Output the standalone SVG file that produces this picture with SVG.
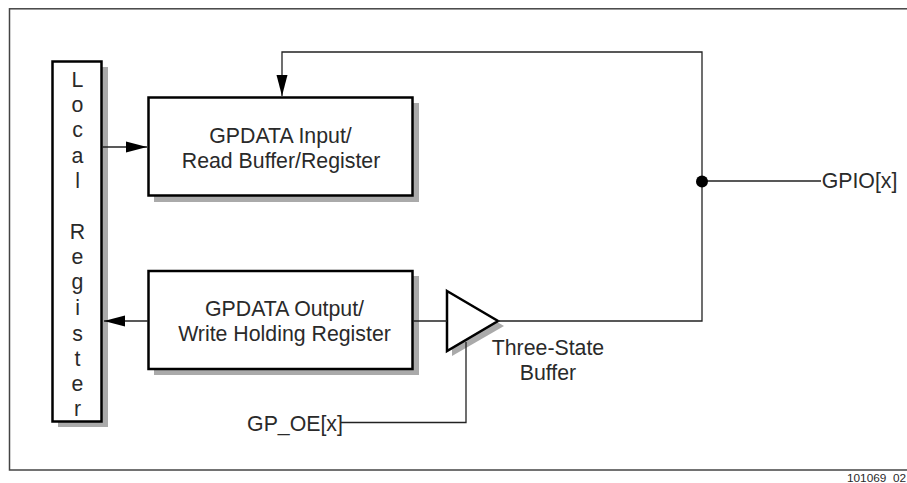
<svg xmlns="http://www.w3.org/2000/svg" width="907" height="483" viewBox="0 0 907 483">
<style>
text{font-family:"Liberation Sans",Arial,sans-serif;font-size:21.3px;fill:#2a2a2a;text-anchor:middle}
.box{fill:#fff;stroke:#000;stroke-width:2.5}
.sh{fill:#aaa}
.w{fill:none;stroke:#222;stroke-width:1.3}
</style>
<defs><marker id="a" markerUnits="userSpaceOnUse" markerWidth="22" markerHeight="12" refX="21" refY="6" orient="auto"><path d="M0 0.5L21 6L0 11.5Z" fill="#000"/></marker></defs>
<rect id="frame" x="9.5" y="8.8" width="899" height="461.2" fill="#fff" stroke="#444" stroke-width="1.5"/>
<g id="local-register">
<rect class="sh" x="58" y="67" width="50" height="360"/>
<rect class="box" x="52.5" y="61.5" width="49" height="360"/>
<text x="77.5" y="87">L</text><text x="77.5" y="112">o</text><text x="77.5" y="137">c</text><text x="77.5" y="163">a</text><text x="77.5" y="188">l</text><text x="77.5" y="239">R</text><text x="77.5" y="264">e</text><text x="77.5" y="289">g</text><text x="77.5" y="315">i</text><text x="77.5" y="341">s</text><text x="77.5" y="366">t</text><text x="77.5" y="391">e</text><text x="77.5" y="416">r</text>
</g>
<g id="input-register">
<rect class="sh" x="154" y="103" width="265" height="99"/>
<rect class="box" x="148.5" y="97.5" width="264" height="98"/>
<text x="280.5" y="143">GPDATA Input/</text><text x="281" y="168">Read Buffer/Register</text>
</g>
<g id="output-register">
<rect class="sh" x="154" y="276" width="265" height="99"/>
<rect class="box" x="148.5" y="271" width="264" height="98"/>
<text x="284.5" y="316">GPDATA Output/</text><text x="284.5" y="341">Write Holding Register</text>
</g>
<g id="buffer">
<path class="sh" d="M452 296L504 326L452 356Z"/>
<path class="box" d="M447 291L498 321L447 351Z"/>
<text x="548" y="355">Three-State</text><text x="548" y="380">Buffer</text>
</g>
<g id="connectors">
<path class="w" d="M702 181V52H282V96" marker-end="url(#a)"/>
<path class="w" d="M102 147H147" marker-end="url(#a)"/>
<path class="w" d="M148 321H104" marker-end="url(#a)"/>
<path class="w" d="M413 321H447"/>
<path class="w" d="M498 321H702V181H821"/>
<path class="w" d="M340 422.5H466V342"/>
<circle cx="702" cy="181.5" r="6" fill="#000"/>
</g>
<g id="labels">
<text x="859.5" y="188">GPIO[x]</text>
<text x="295" y="431">GP_OE[x]</text>
<text x="876.5" y="481.5" style="font-size:11.8px">101069_02</text>
</g>
</svg>
